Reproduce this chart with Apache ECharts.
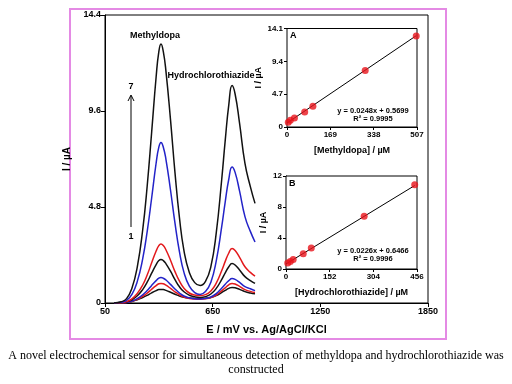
<!DOCTYPE html>
<html><head><meta charset="utf-8">
<script src="https://cdn.jsdelivr.net/npm/echarts@6/dist/echarts.min.js"></script>
<style>html,body{margin:0;padding:0;background:#fff}#c{width:512px;height:384px}</style>
</head><body><div id="c"></div>
<script>
// Potential grid (mV) and DPV curves (µA), curve 1 (lowest) to 7 (highest)
const E = [100,140,170,200,230,260,285,310,335,350,362,375,390,415,440,465,490,520,550,580,610,640,670,700,720,740,758,775,800,830,860,886];
const curve1 = [0,0,0.03,0.08,0.16,0.27,0.38,0.51,0.62,0.67,0.68,0.67,0.63,0.54,0.44,0.35,0.29,0.25,0.23,0.22,0.24,0.28,0.37,0.52,0.63,0.73,0.78,0.76,0.68,0.57,0.50,0.46];
const curve2 = [0,0,0.03,0.09,0.18,0.33,0.49,0.69,0.87,0.96,0.98,0.96,0.89,0.73,0.56,0.41,0.30,0.23,0.20,0.19,0.21,0.27,0.40,0.61,0.76,0.91,0.98,0.95,0.83,0.67,0.58,0.52];
const curve3 = [0,0.01,0.03,0.10,0.22,0.41,0.62,0.88,1.12,1.24,1.27,1.24,1.15,0.93,0.70,0.50,0.35,0.26,0.21,0.20,0.22,0.30,0.47,0.74,0.94,1.12,1.22,1.18,1.03,0.82,0.71,0.62];
const curve4 = [0,0.01,0.05,0.16,0.36,0.67,1.04,1.49,1.92,2.12,2.18,2.12,1.96,1.59,1.17,0.81,0.56,0.39,0.31,0.28,0.32,0.45,0.73,1.17,1.51,1.81,1.97,1.90,1.65,1.32,1.12,0.98];
const curve5 = [0,0.01,0.07,0.21,0.48,0.90,1.40,2.01,2.60,2.87,2.95,2.87,2.65,2.14,1.57,1.09,0.74,0.50,0.40,0.37,0.42,0.60,0.99,1.61,2.08,2.50,2.72,2.62,2.28,1.81,1.53,1.34];
const curve6 = [0,0.04,0.13,0.43,1.08,2.21,3.57,5.25,7.00,7.79,8.03,7.79,7.16,5.65,3.99,2.56,1.53,0.84,0.52,0.43,0.57,1.04,2.11,3.79,5.06,6.20,6.80,6.53,5.59,4.32,3.58,3.05];
const curve7 = [0,0.06,0.22,0.74,1.81,3.65,5.84,8.54,11.31,12.57,12.95,12.57,11.56,9.17,6.52,4.26,2.62,1.53,1.02,0.87,1.08,1.82,3.51,6.14,8.13,9.92,10.87,10.45,8.98,6.98,5.82,4.98];
const curveColors = ['#111111','#e3191c','#2323c8','#111111','#e3191c','#2323c8','#111111'];

// Inset A: methyldopa calibration
const concA = [5, 13, 29, 69, 101, 305, 504];
const currA = [0.68, 0.96, 1.30, 2.16, 2.97, 8.10, 13.04];
const fitA = [[0, 0.57], [504, 13.07]];
// Inset B: hydrochlorothiazide calibration
const concB = [6, 15, 25, 60, 88, 272, 448];
const currB = [0.78, 0.98, 1.22, 1.97, 2.72, 6.80, 10.87];
const fitB = [[0, 0.65], [448, 10.77]];

// Axis ticks
const mainXTicks = {min: 50, max: 1850, interval: 600};
const mainYTicks = {min: 0, max: 14.4, interval: 4.8};
const aXTicks = {min: 0, max: 507, interval: 169};
const aYTicks = {min: 0, max: 14.1, interval: 4.7};
const bXTicks = {min: 0, max: 456, interval: 152};
const bYTicks = {min: 0, max: 12, interval: 4};

const FF = '"Liberation Sans", Arial, sans-serif';
const chart = echarts.init(document.getElementById('c'), null, {renderer: 'canvas'});
const plain = v => String(Math.round(v * 100) / 100);

function axisBase(t, extra) {
  return Object.assign({
    type: 'value', min: t.min, max: t.max, interval: t.interval,
    axisLine: {show: true, lineStyle: {color: '#000', width: 1}},
    axisTick: {show: true, length: 3, lineStyle: {color: '#000'}},
    splitLine: {show: false},
    axisLabel: {color: '#000', fontWeight: 'bold', fontFamily: FF, fontSize: 8, margin: 4, formatter: plain},
    nameLocation: 'middle',
    nameTextStyle: {color: '#000', fontWeight: 'bold', fontFamily: FF, fontSize: 9}
  }, extra);
}

const curves = [curve1, curve2, curve3, curve4, curve5, curve6, curve7];
const series = curves.map((c, k) => ({
  type: 'line', xAxisIndex: 0, yAxisIndex: 0, smooth: 0.5,
  symbol: 'none', lineStyle: {width: 1.5, color: curveColors[k]},
  data: E.map((e, i) => [e, c[i]]), z: 2
}));
series.push(
  {type: 'line', xAxisIndex: 1, yAxisIndex: 1, symbol: 'none', lineStyle: {color: '#000', width: 1}, data: fitA, z: 3},
  {type: 'scatter', xAxisIndex: 1, yAxisIndex: 1, symbolSize: 7, itemStyle: {color: '#e8141c'}, data: concA.map((x, i) => [x, currA[i]]), z: 4},
  {type: 'line', xAxisIndex: 2, yAxisIndex: 2, symbol: 'none', lineStyle: {color: '#000', width: 1}, data: fitB, z: 3},
  {type: 'scatter', xAxisIndex: 2, yAxisIndex: 2, symbolSize: 7, itemStyle: {color: '#e8141c'}, data: concB.map((x, i) => [x, currB[i]]), z: 4}
);

function txt(text, x, y, size, align, family, weight) {
  return {type: 'text', z: 10, style: {
    text: text, x: x, y: y, fill: '#000',
    font: (weight || 'bold') + ' ' + size + 'px ' + (family || FF),
    textAlign: align || 'center', textVerticalAlign: 'middle',
    align: align || 'center', verticalAlign: 'middle'
  }};
}

chart.setOption({
  animation: false,
  backgroundColor: '#fff',
  grid: [
    {left: 105, top: 15, width: 323, height: 288, show: true, borderColor: '#000', borderWidth: 1},
    {left: 287, top: 28.5, width: 130, height: 98.5, show: true, borderColor: '#000', borderWidth: 1, backgroundColor: '#fff', z: 3},
    {left: 286, top: 176, width: 131, height: 93, show: true, borderColor: '#000', borderWidth: 1, backgroundColor: '#fff', z: 3}
  ],
  xAxis: [
    axisBase(mainXTicks, {gridIndex: 0, name: 'E / mV vs. Ag/AgCl/KCl', nameGap: 21,
      axisLabel: {color: '#000', fontWeight: 'bold', fontFamily: FF, fontSize: 9, margin: 4, formatter: plain},
      axisTick: {show: true, length: 4, lineStyle: {color: '#000'}},
      nameTextStyle: {color: '#000', fontWeight: 'bold', fontFamily: FF, fontSize: 11}}),
    axisBase(aXTicks, {gridIndex: 1, name: '[Methyldopa] / µM', nameGap: 19}),
    axisBase(bXTicks, {gridIndex: 2, name: '[Hydrochlorothiazide] / µM', nameGap: 19})
  ],
  yAxis: [
    axisBase(mainYTicks, {gridIndex: 0, name: 'I / µA', nameGap: 27,
      axisLabel: {color: '#000', fontWeight: 'bold', fontFamily: FF, fontSize: 9, margin: 4, formatter: plain},
      axisTick: {show: true, length: 4, lineStyle: {color: '#000'}},
      nameTextStyle: {color: '#000', fontWeight: 'bold', fontFamily: FF, fontSize: 10}}),
    axisBase(aYTicks, {gridIndex: 1, name: 'I / µA', nameGap: 24}),
    axisBase(bYTicks, {gridIndex: 2, name: 'I / µA', nameGap: 18})
  ],
  series: series,
  graphic: [
    {type: 'rect', z: 0, shape: {x: 70, y: 9, width: 376, height: 330}, style: {fill: 'none', stroke: '#e48ae4', lineWidth: 2}},
    {type: 'line', z: 10, shape: {x1: 131, y1: 227, x2: 131, y2: 96}, style: {stroke: '#000', lineWidth: 1}},
    {type: 'polyline', z: 10, shape: {points: [[128, 101], [131, 95], [134, 101]]}, style: {stroke: '#000', lineWidth: 1, fill: 'none'}},
    txt('7', 131, 87, 9),
    txt('1', 131, 237, 9),
    txt('Methyldopa', 155, 36, 9),
    txt('Hydrochlorothiazide', 211, 76, 9),
    txt('A', 290, 36, 9, 'left'),
    txt('B', 289, 184, 9, 'left'),
    txt('y = 0.0248x + 0.5699', 373, 111, 7.5),
    txt('R² = 0.9995', 373, 119, 7.5),
    txt('y = 0.0226x + 0.6466', 373, 251, 7.5),
    txt('R² = 0.9996', 373, 259, 7.5),
    txt('A novel electrochemical sensor for simultaneous detection of methyldopa and hydrochlorothiazide was', 256, 356, 12, 'center', '"Liberation Serif", "Times New Roman", serif', 'normal'),
    txt('constructed', 256, 370, 12, 'center', '"Liberation Serif", "Times New Roman", serif', 'normal')
  ]
});
</script></body></html>
